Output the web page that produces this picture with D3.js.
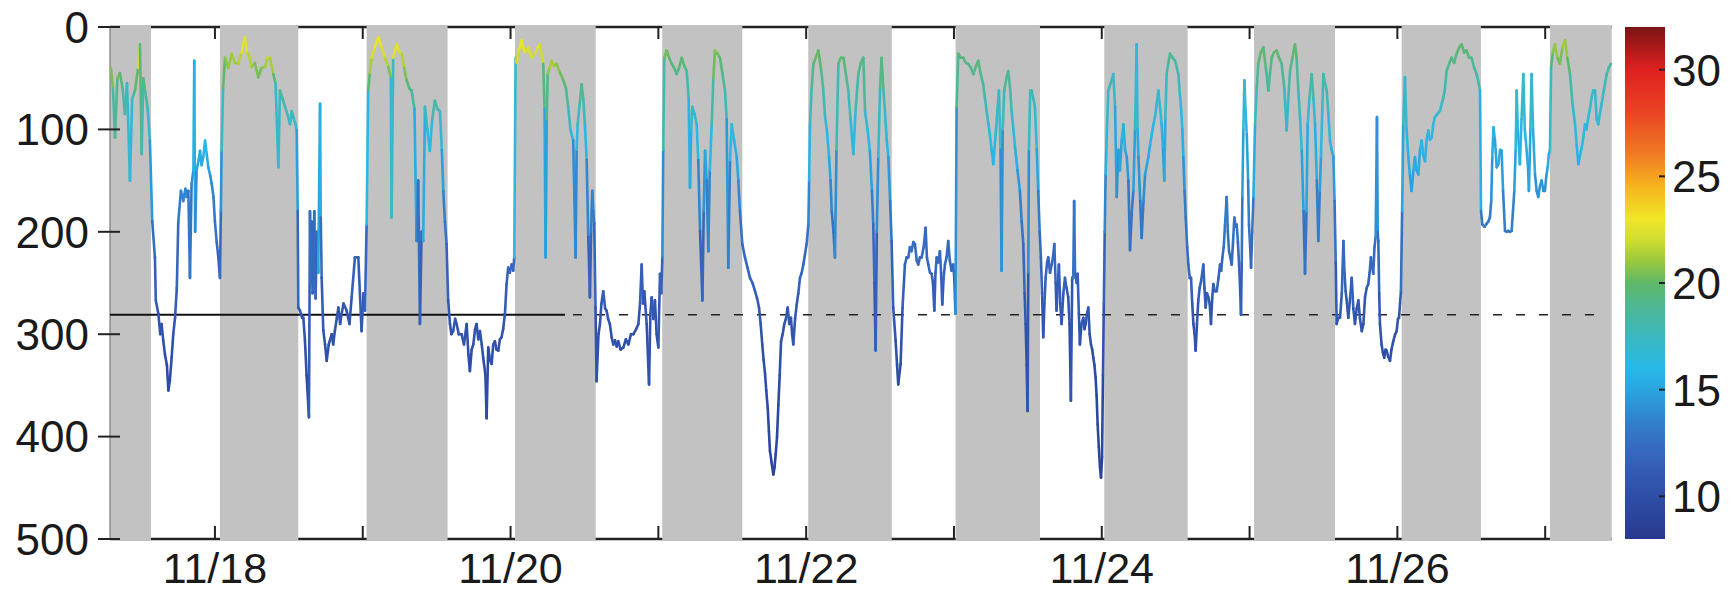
<!DOCTYPE html>
<html><head><meta charset="utf-8">
<script src="https://cdn.jsdelivr.net/npm/d3@7"></script>
<style>html,body{margin:0;padding:0;background:#fff;}svg{display:block;}</style>
</head><body>
<svg id="chart" width="1736" height="593"></svg>
<script>
// ---------- data ----------
// time in days of November (fractional), depth in m, temperature in °C
const time = [
17.296,17.310,17.324,17.340,17.357,17.375,17.391,17.405,17.425,17.440,17.459,17.480,17.493,17.504,17.515,17.527,17.545,17.560,17.576,17.594,
17.600,17.617,17.630,17.639,17.650,17.662,17.675,17.685,17.695,17.707,17.718,17.730,17.742,17.752,17.770,17.786,17.800,17.809,17.820,17.831,17.842,17.854,17.860,17.866,17.876,17.890,17.899,17.910,17.921,17.933,17.945,17.955,17.968,17.978,17.990,18.000,18.012,18.023,18.034,
18.040,18.045,18.055,18.068,18.090,18.113,18.135,18.158,18.180,18.203,18.215,18.226,18.248,18.270,18.293,18.315,18.339,18.355,18.372,18.395,18.410,18.429,18.440,18.458,18.474,18.490,18.508,18.520,18.530,18.545,18.553,18.560,18.564,
18.575,18.590,18.598,18.609,18.620,18.636,18.643,18.648,18.654,18.660,18.665,18.672,18.681,18.690,18.699,18.711,18.716,18.722,18.733,18.745,18.756,18.770,18.790,18.800,18.812,18.825,18.835,18.847,18.857,18.870,18.891,18.910,18.925,18.947,
18.970,18.992,19.005,19.015,19.026,
19.037,19.048,19.060,19.080,19.105,19.128,19.150,19.173,19.190,19.195,19.206,19.229,19.250,19.263,19.280,19.297,19.315,19.330,19.350,19.364,19.375,19.387,19.398,19.409,19.421,19.437,19.454,19.470,19.488,19.505,19.522,19.535,19.545,19.556,19.567,19.578,
19.590,19.600,19.612,19.625,19.635,19.650,19.669,19.685,19.703,19.715,19.725,19.737,19.748,19.760,19.770,19.782,19.793,19.805,19.815,19.830,19.838,19.849,19.860,19.872,19.883,19.894,19.905,19.917,19.928,19.939,19.950,19.962,19.973,19.984,19.995,20.007,20.018,20.025,
20.034,20.043,20.052,20.063,20.075,20.095,20.120,20.140,20.165,20.185,20.199,20.221,20.230,20.237,20.245,20.251,20.265,20.278,20.295,20.311,20.335,20.357,20.375,20.390,20.405,20.424,20.440,20.447,20.454,20.468,20.481,20.492,20.503,20.515,20.526,20.537,20.545,20.553,20.560,20.566,20.575,
20.582,20.595,20.605,20.615,20.627,20.640,20.650,20.660,20.672,20.684,20.695,20.707,20.718,20.729,20.745,20.763,20.780,20.797,20.815,20.831,20.850,20.865,20.876,20.887,20.896,20.905,20.921,20.937,20.946,20.955,20.966,20.977,20.988,21.000,21.011,21.020,21.027,
21.033,21.040,21.056,21.073,21.090,21.107,21.124,21.140,21.158,21.175,21.192,21.205,21.214,21.222,21.230,21.245,21.259,21.270,21.282,21.298,21.307,21.316,21.327,21.338,21.348,21.361,21.372,21.383,21.400,21.417,21.433,21.451,21.462,21.473,21.485,21.496,21.512,21.530,21.541,21.552,21.568,
21.586,21.603,21.620,21.637,21.654,21.668,21.681,21.692,21.703,21.712,21.722,21.730,21.740,21.748,21.755,21.766,21.778,21.786,21.794,21.803,21.812,21.821,21.830,21.841,21.852,21.863,21.875,21.886,21.897,21.905,21.913,21.925,21.936,21.947,21.958,21.970,21.981,21.992,22.003,22.015,
22.020,22.026,22.037,22.049,22.065,22.082,22.100,22.115,22.128,22.140,22.155,22.165,22.173,22.185,22.195,22.205,22.218,22.235,22.252,22.268,22.285,22.300,22.319,22.335,22.353,22.370,22.387,22.398,22.415,22.431,22.445,22.454,22.462,22.470,22.478,22.488,22.500,22.510,22.522,22.533,22.545,22.556,22.568,22.578,
22.589,22.605,22.615,22.623,22.639,22.652,22.668,22.680,22.691,22.702,22.713,22.725,22.736,22.748,22.758,22.770,22.781,22.795,22.808,22.817,22.826,22.838,22.849,22.858,22.867,22.875,22.883,22.895,22.905,22.913,22.921,22.930,22.939,22.950,22.961,22.972,22.984,22.995,23.002,23.010,
23.018,23.029,23.045,23.063,23.080,23.097,23.115,23.131,23.150,23.164,23.180,23.198,23.210,23.221,23.233,23.243,23.255,23.266,23.282,23.295,23.304,23.315,23.322,23.330,23.340,23.355,23.367,23.380,23.390,23.402,23.413,23.430,23.446,23.458,23.469,23.478,23.485,23.492,23.498,23.503,23.507,23.516,23.525,23.537,23.548,23.560,23.570,23.580,
23.588,23.596,23.604,23.612,23.620,23.630,23.638,23.650,23.661,23.670,23.679,23.688,23.694,23.703,23.710,23.719,23.728,23.740,23.751,23.762,23.773,23.782,23.791,23.800,23.807,23.813,23.819,23.830,23.837,23.845,23.852,23.863,23.875,23.883,23.891,23.900,23.909,23.918,23.927,23.935,23.943,23.950,23.958,23.965,23.972,23.980,23.988,23.995,24.002,24.008,24.014,
24.020,24.026,24.035,24.044,24.060,24.078,24.090,24.101,24.112,24.123,24.135,24.146,24.158,24.169,24.180,24.191,24.203,24.214,24.225,24.236,24.242,24.248,24.260,24.270,24.282,24.293,24.305,24.315,24.327,24.338,24.350,24.360,24.372,24.383,24.395,24.405,24.415,24.423,24.430,24.439,24.450,24.462,24.480,24.496,24.508,24.518,24.528,24.536,24.545,24.552,24.560,24.568,24.578,
24.586,24.595,24.604,24.612,24.620,24.628,24.635,24.644,24.653,24.662,24.672,24.680,24.687,24.695,24.703,24.712,24.721,24.730,24.739,24.747,24.755,24.765,24.778,24.790,24.800,24.808,24.816,24.825,24.834,24.845,24.853,24.861,24.870,24.879,24.888,24.897,24.905,24.913,24.921,24.929,24.936,24.942,24.947,24.951,24.958,24.965,24.972,24.981,24.990,24.996,25.004,25.010,25.018,25.026,
25.037,25.048,25.059,25.075,25.093,25.110,25.127,25.138,25.150,25.165,25.183,25.200,25.217,25.235,25.251,25.262,25.274,25.290,25.307,25.318,25.330,25.342,25.353,25.365,25.375,25.385,25.393,25.405,25.420,25.432,25.443,25.455,25.465,25.475,25.483,25.492,25.499,25.510,25.522,25.533,25.544,25.555,25.567,25.575,25.583,
25.589,25.600,25.612,25.624,25.635,25.642,25.650,25.659,25.668,25.680,25.691,25.702,25.713,25.725,25.736,25.747,25.759,25.770,25.781,25.792,25.803,25.812,25.821,25.830,25.837,25.845,25.853,25.862,25.867,25.871,25.877,25.882,25.893,25.902,25.911,25.920,25.927,25.938,25.950,25.960,25.972,25.985,25.995,26.004,26.011,26.018,26.024,
26.032,26.040,26.051,26.062,26.074,26.085,26.096,26.108,26.119,26.130,26.142,26.153,26.164,26.175,26.187,26.198,26.209,26.220,26.232,26.243,26.254,26.270,26.288,26.300,26.311,26.322,26.333,26.350,26.367,26.384,26.401,26.418,26.435,26.452,26.469,26.485,26.502,26.520,26.536,26.550,26.559,
26.566,26.575,26.590,26.604,26.615,26.626,26.635,26.642,26.650,26.660,26.672,26.683,26.695,26.705,26.715,26.728,26.740,26.750,26.762,26.773,26.782,26.791,26.800,26.807,26.815,26.829,26.840,26.852,26.862,26.875,26.885,26.890,26.900,26.908,26.918,26.931,26.942,26.953,26.965,26.976,26.988,26.998,27.008,27.017,27.025,27.032,
27.040,27.052,27.066,27.083,27.100,27.117,27.134,27.150,27.168,27.185,27.202,27.213,27.224,27.236,27.247,27.258,27.269,27.280,27.292,27.303,27.314,27.325,27.337,27.348,27.359,27.370,27.382,27.399,27.416,27.430,27.445
];
const depth = [
40,60,108,50,45,60,85,55,150,70,62,40,17,124,50,62,80,111,190,225,
267,280,300,290,306,320,330,355,345,323,300,284,255,190,160,170,158,166,160,245,153,140,33,200,140,130,121,135,127,111,125,137,145,153,166,190,210,225,245,
180,121,60,30,40,26,35,36,25,10,25,26,39,35,49,40,39,30,30,46,55,137,62,70,78,85,95,82,88,95,101,180,274,
277,284,284,306,340,381,180,250,190,260,258,180,265,200,240,75,186,245,296,310,326,310,300,310,296,284,274,290,280,270,277,290,264,225,
225,297,260,277,193,
62,45,30,20,10,20,30,39,50,186,30,17,25,26,40,52,60,62,80,209,150,290,200,209,78,100,121,90,72,80,82,120,160,190,212,267,
290,300,297,285,290,300,300,310,290,320,336,315,310,295,290,305,297,310,323,340,382,313,325,329,310,307,315,316,305,303,295,280,251,235,240,232,238,225,
30,35,23,20,13,25,20,30,26,20,17,36,80,225,90,46,40,33,38,36,45,52,60,78,100,111,225,120,95,75,56,70,95,130,205,264,200,160,180,192,274,
346,300,290,270,258,275,277,285,290,303,310,306,312,307,315,313,305,310,300,300,295,290,270,232,270,258,290,349,280,264,285,267,300,313,241,260,225,
120,30,23,30,36,40,46,40,30,38,43,70,157,100,78,85,95,130,199,267,180,121,150,219,140,95,50,23,26,30,45,62,90,235,130,95,110,127,150,180,212,
225,235,245,250,258,265,274,290,310,325,339,355,372,395,414,425,437,430,417,400,369,340,307,300,290,285,274,290,284,300,310,285,271,260,245,240,232,222,212,193,
150,95,60,36,30,23,40,60,88,100,127,150,180,200,225,120,36,30,30,45,62,90,124,80,46,35,30,82,100,121,160,193,250,316,200,127,60,30,60,82,110,127,170,209,
274,306,330,349,329,274,232,225,225,215,219,210,212,228,232,225,225,215,196,225,232,240,241,250,277,240,225,230,219,240,271,245,232,225,209,228,238,232,245,280,
78,26,30,30,35,36,40,46,38,33,45,56,70,82,95,105,120,134,105,80,62,120,238,100,62,50,43,60,82,100,117,140,160,190,212,260,290,330,375,240,120,62,62,70,78,120,160,200,
225,260,303,270,245,230,225,240,232,225,212,250,277,250,232,270,290,260,245,255,264,290,365,245,245,170,240,250,241,280,310,290,284,295,290,280,274,300,310,315,323,330,342,360,388,410,430,440,420,340,270,
200,144,100,62,55,46,78,166,120,140,110,95,120,127,150,218,180,160,100,17,100,127,170,206,170,144,135,127,115,105,95,88,75,62,80,95,120,150,90,46,35,26,30,33,40,46,65,78,100,127,160,186,215,
232,245,245,270,290,300,316,290,267,255,248,240,232,255,274,260,264,270,290,265,251,258,258,245,232,238,225,215,193,166,200,219,225,232,210,186,195,193,210,232,255,281,230,166,100,52,80,105,150,193,215,235,200,166,
95,60,36,25,20,40,62,45,30,25,23,30,36,60,101,70,43,30,17,30,62,90,121,180,241,180,95,70,46,70,95,150,209,160,127,80,46,55,62,85,111,120,127,170,230,
290,284,284,260,209,240,258,270,284,265,245,275,290,275,267,285,297,290,264,255,251,240,225,235,241,215,205,88,200,209,260,290,310,318,323,315,316,322,326,315,307,300,297,285,284,270,258,
180,95,49,100,127,145,160,140,127,140,144,120,111,125,131,110,101,110,108,95,88,85,82,75,69,60,43,36,30,35,26,20,17,25,23,30,30,40,46,55,62,
180,193,195,192,190,186,170,127,98,110,137,134,120,121,160,199,200,199,200,199,180,160,120,62,100,134,90,46,100,121,140,160,100,46,100,144,160,166,155,150,160,160,145,137,124,121,
39,25,17,30,36,20,13,30,46,75,95,115,134,125,118,108,95,100,88,80,69,62,62,90,95,85,75,60,46,40,36
];
const temp = [
21,20,17,21,20,19,18,19,15,18,19,21,23,16,20,19,18,16,13,12,
11,11,10.5,10.5,10.5,10,10,9.5,10,10,10.5,11,11.5,12.5,14,13.5,14,13.5,14,12,14,14.5,18,13,15,15,15.5,15,15.5,16,15.5,15,14.5,14,13.5,13,12.5,12,11.5,
13,15.5,19,21,20.5,21.5,21,21,22,23,22,22,21,21,20,20.5,21,21.5,22.5,20,19.5,15,19,18.5,18,17.5,17,17.5,17.5,17,16.5,13,11,
11,11,11,10.5,10,9.5,13,12,13,11.5,11.5,13,11.5,12.5,12,18,13,12,10.5,10.5,10,10.5,10.5,10.5,10.5,11,11,10.5,11,11,11,10.5,11,12,
12,10.5,11.5,11,13,
19,20.5,22,22.5,23,22.5,22,21,20,13,22,23,22,22,21,20,19.5,19,18,12.5,14.5,10.5,12.5,12.5,18,17,15.5,17.5,18.5,18,18,15.5,14,13,12.5,11,
10.5,10.5,10.5,11,10.5,10.5,10.5,10.5,10.5,10,10,10,10.5,10.5,10.5,10.5,10.5,10.5,10,10,9.5,10,10,10,10.5,10.5,10,10,10.5,10.5,10.5,11,11.5,12,12,12,12,12,
21.5,21.5,22.5,22.5,23,22.5,22.5,22,22,22.5,23,21,18,12,17.5,20.5,21,21.5,21,21,20.5,20,19.5,18,17,16,12,15.5,17,18,19.5,18.5,17,15,12.5,11,12.5,14,13.5,13,11,
10,10.5,10.5,11,11.5,11,11,11,10.5,10.5,10.5,10.5,10,10.5,10,10,10.5,10.5,10.5,10.5,10.5,10.5,11,12,11,11.5,10.5,10,11,11,11,11,10.5,10,12,11.5,12,
16,20,20.5,20,19.5,19.5,19,19.5,20,19.5,19,17.5,14,16.5,17.5,17,17,15,12.5,11,13,15.5,14.5,12.5,15,17,19.5,21,20.5,20,19,18.5,17,12,15,17,16,15.5,14.5,13,12.5,
12,12,12,11.5,11.5,11.5,11,10.5,10.5,10,10,10,9.5,9.5,9.5,9,9,9,9.5,9.5,9.5,10,10.5,10.5,10.5,11,11,10.5,11,10.5,10.5,11,11,11.5,12,12,12,12,12.5,13,
14.5,17,18.5,19.5,20,20.5,19.5,18.5,17,16.5,15.5,14.5,13,12.5,12,16,19.5,20,20,19,18.5,17,15.5,17.5,19,19.5,20,17.5,16.5,15.5,14,13,11.5,10.5,12.5,15.5,18.5,20,18.5,17.5,16,15.5,13.5,12.5,
11,10.5,10,10,10,11,12,12,12,12.5,12.5,12.5,12.5,12,12,12,12,12.5,12.5,12,12,12,12,11.5,11,12,12,12,12.5,12,11,12,12,12,12.5,12,12,12,12,11,
17.5,20,19.5,19.5,19.5,19.5,19,19,19.5,19.5,19,18.5,18,17.5,17,16.5,16,15.5,16.5,17.5,18.5,16,12,16.5,18.5,19,19,18.5,17.5,16.5,16,15,14,13,12.5,11.5,10.5,10,9.5,12,16,18.5,18.5,18,17.5,16,14,12.5,
12,11.5,10.5,11,12,12,12,12,12,12,12.5,11.5,11,11.5,12,11,10.5,11.5,12,11.5,11,10.5,9.5,12,12,13.5,12,11.5,12,11,10.5,10.5,11,10.5,10.5,11,11,10.5,10.5,10,10,10,10,9.5,9.5,9.5,9,9,9,10,11,
12.5,15,16.5,17.5,18,18,16.5,13.5,15,14.5,15.5,16,15,15,14,12,13,13.5,16,18,15.5,15,13.5,12.5,13.5,14.5,15,15,15.5,16,16,16.5,17,17.5,16.5,16,15,14,16.5,18,18.5,19,18.5,18.5,18,18,17,16.5,16,15,13.5,13,12.5,
12,12,12,11,10.5,10.5,10.5,10.5,11,11.5,11.5,12,12,11.5,11,11.5,11,11,10.5,11,11.5,11.5,11.5,12,12,12,12,12.5,13,13.5,12.5,12.5,12,12,12.5,13,13,13,12.5,12,11.5,11,12,13.5,16,17.5,16.5,15.5,14,13,12.5,12,12.5,13.5,
17,18,19.5,20,20,19,18,19,19.5,20,20,19.5,19.5,18,16.5,17.5,19,19.5,20,19.5,18,17,16,13.5,12,13.5,16.5,17.5,19,17.5,16.5,14.5,12.5,14,15.5,17,18.5,18,18,17,16,15.5,15.5,13.5,12,
10.5,11,11,11.5,12.5,12,11.5,11,11,11,12,11,10.5,11,11,11,10.5,10.5,11,11.5,11.5,12,12,12,12,12.5,12.5,16,12.5,12.5,11.5,10.5,10.5,10,10,10,10,10,10,10,10.5,10.5,10.5,11,11,11,11.5,
13.5,16.5,18,16,15.5,15,14.5,15,15.5,15,15,15.5,16,15.5,15.5,16,16,16,16,16.5,16.5,17,17,17.5,17.5,18,18.5,19,19.5,19,19.5,20,20,19.5,19.5,19.5,19,18.5,18.5,18,18,
13,13,13,13,13,13,13.5,15,16,15.5,14.5,15,15.5,15.5,14,13,13,13,13,13,13.5,14,15.5,17.5,16,15,16.5,18,16,15.5,15,14,16,18,16,14.5,14,14,14.5,14.5,14,14,14.5,15,15.5,15.5,
19,20,21.5,20.5,20,21,21.5,20.5,19,17.5,16.5,16,15.5,15.5,16,16,16.5,16.5,16.5,17,17.5,17.5,17.5,16.5,16.5,17,17,17.5,18,18.5,19
];

// night (shaded) periods, days of November
const nightStart = [17.290,18.034,19.026,20.030,21.026,22.014,23.011,24.017,25.030,26.029,27.032];
const nightEnd   = [17.567,18.564,19.574,20.576,21.568,22.579,23.582,24.581,25.578,26.565,27.450];

const xTickDays = [18,19,20,21,22,23,24,25,26,27];
const yTicks = [0,100,200,300,400,500];
const cbTicks = [10,15,20,25,30];
const refDepth = 281;
const refSolidEnd = 20.368;
const refDashEnd = 27.36;

// colormap stops (temperature -> colour)
const cmapVals = [8,10,11,12,13.5,15,16,17.5,19,20,21,22,23,24.5,26,28,30,32];
const cmapCols = ["#27398e","#2e4ea6","#3358b2","#3666bd","#3180cc","#2aa6de","#28b8e8","#3cb8c0","#50b890","#60b868","#98c840","#d0dc30","#f0e628","#f6b51e","#f07c24","#ea4424","#e02020","#7a1414"];

// ---------- layout ----------
const L = 110, R = 1611.7, T = 27, B = 539;
const CBX = 1625, CBW = 40;
const FONT = "'Liberation Sans', Arial, sans-serif";
const FS = 44;

const svg = d3.select("#chart");
const x = d3.scaleLinear().domain([17.29, 27.45]).range([L, R]);
const y = d3.scaleLinear().domain([0, 500]).range([T, B]);
const color = d3.scaleLinear().domain(cmapVals).range(cmapCols).interpolate(d3.interpolateRgb).clamp(true);
const cy = d3.scaleLinear().domain([8, 32]).range([B, T]);

// axis box lines (under the night shading)
svg.append("line").attr("x1", L).attr("x2", R).attr("y1", T).attr("y2", T).attr("stroke", "#222").attr("stroke-width", 2.5);
svg.append("line").attr("x1", L).attr("x2", R).attr("y1", B).attr("y2", B).attr("stroke", "#222").attr("stroke-width", 2.5);

// night shading
svg.append("g").selectAll("rect").data(nightStart).join("rect")
  .attr("x", (d) => x(d)).attr("width", (d, i) => x(nightEnd[i]) - x(d))
  .attr("y", T - 1.5).attr("height", B - T + 3)
  .attr("fill", "#c2c2c2");

svg.append("line").attr("x1", L).attr("x2", L).attr("y1", T).attr("y2", B).attr("stroke", "#666").attr("stroke-width", 1);

// reference depth line
svg.append("line").attr("x1", x(17.29)).attr("x2", x(refSolidEnd)).attr("y1", y(refDepth)).attr("y2", y(refDepth))
  .attr("stroke", "#111").attr("stroke-width", 2);
svg.append("line").attr("x1", x(refSolidEnd) + 8).attr("x2", x(refDashEnd)).attr("y1", y(refDepth)).attr("y2", y(refDepth))
  .attr("stroke", "#222").attr("stroke-width", 1.6).attr("stroke-dasharray", "9,14");

// depth trace coloured by temperature
const segs = d3.range(time.length - 1);
svg.append("g").selectAll("line").data(segs).join("line")
  .attr("x1", (i) => x(time[i])).attr("y1", (i) => y(depth[i]))
  .attr("x2", (i) => x(time[i + 1])).attr("y2", (i) => y(depth[i + 1]))
  .attr("stroke", (i) => color((temp[i] + temp[i + 1]) / 2))
  .attr("stroke-width", 2.6).attr("stroke-linecap", "round");

// x axis ticks (bottom & top, inward) and labels
const gx = svg.append("g");
xTickDays.forEach((d) => {
  gx.append("line").attr("x1", x(d)).attr("x2", x(d)).attr("y1", B).attr("y2", B - 13).attr("stroke", "#222").attr("stroke-width", 2);
  gx.append("line").attr("x1", x(d)).attr("x2", x(d)).attr("y1", T).attr("y2", T + 12).attr("stroke", "#222").attr("stroke-width", 2);
  if (d % 2 === 0) {
    gx.append("text").attr("x", x(d)).attr("y", 583).attr("text-anchor", "middle")
      .attr("font-family", FONT).attr("font-size", 43).attr("fill", "#1a1a1a").text("11/" + d);
  }
});

// y axis
const gy = svg.append("g");
yTicks.forEach((v) => {
  gy.append("line").attr("x1", 98).attr("x2", 120).attr("y1", y(v)).attr("y2", y(v)).attr("stroke", "#222").attr("stroke-width", 2);
  gy.append("text").attr("x", 89).attr("y", y(v)).attr("dy", "0.36em").attr("text-anchor", "end")
    .attr("font-family", FONT).attr("font-size", FS).attr("fill", "#1a1a1a").text(v);
});

// colour bar
const defs = svg.append("defs");
const grad = defs.append("linearGradient").attr("id", "cbar").attr("x1", 0).attr("x2", 0).attr("y1", 1).attr("y2", 0);
cmapVals.forEach((v, i) => {
  grad.append("stop").attr("offset", (v - 8) / 24).attr("stop-color", cmapCols[i]);
});
svg.append("rect").attr("x", CBX).attr("y", T).attr("width", CBW).attr("height", B - T).attr("fill", "url(#cbar)");
cbTicks.forEach((v) => {
  svg.append("line").attr("x1", CBX + CBW - 6).attr("x2", CBX + CBW).attr("y1", cy(v)).attr("y2", cy(v)).attr("stroke", "#222").attr("stroke-width", 2);
  svg.append("text").attr("x", 1672).attr("y", cy(v)).attr("dy", "0.36em").attr("text-anchor", "start")
    .attr("font-family", FONT).attr("font-size", FS).attr("fill", "#1a1a1a").text(v);
});
</script>
</body></html>
